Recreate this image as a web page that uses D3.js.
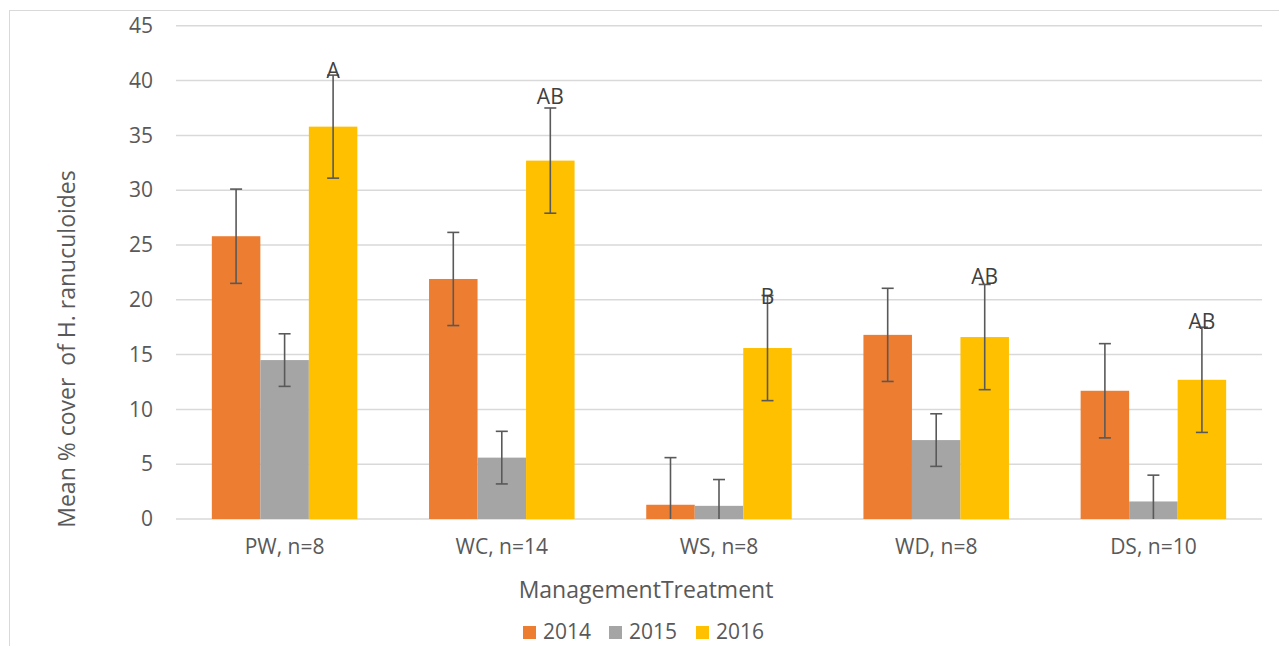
<!DOCTYPE html>
<html><head><meta charset="utf-8">
<script src="https://cdn.jsdelivr.net/npm/d3@7"></script>
<style>
body{margin:0;background:#fff;}
svg text{font-family:"Open Sans",sans-serif;fill:#595959;}
</style></head>
<body>
<svg id="chart" width="1279" height="646"></svg>
<script>
const categories = ["PW, n=8","WC, n=14","WS, n=8","WD, n=8","DS, n=10"];
const seriesNames = ["2014","2015","2016"];
const values2014 = [25.8, 21.9, 1.3, 16.8, 11.7];
const values2015 = [14.5, 5.6, 1.2, 7.2, 1.6];
const values2016 = [35.8, 32.7, 15.6, 16.6, 12.7];
const err2014 = [4.3, 4.25, 4.3, 4.25, 4.3];
const err2015 = [2.4, 2.4, 2.4, 2.4, 2.4];
const err2016 = [4.7, 4.8, 4.8, 4.8, 4.8];
const letters = ["A","AB","B","AB","AB"];
const letterValues = [40.9, 38.5, 20.3, 22.1, 18.0];
const yTicks = [0,5,10,15,20,25,30,35,40,45];
const colors = ["#ED7D31","#A5A5A5","#FFC000"];

const values = [values2014, values2015, values2016];
const errs = [err2014, err2015, err2016];

(function(){
const svg = d3.select("#chart");
const pL = 176, pR = 1262, pT = 25.8, pB = 519;

// frame
svg.append("rect").attr("x",9.5).attr("y",10.5).attr("width",1290).attr("height",660)
  .attr("fill","none").attr("stroke","#D9D9D9").attr("stroke-width",1);

const x0 = d3.scaleBand().domain(categories).range([pL,pR]).paddingInner(0.33).paddingOuter(0.165);
const x1 = d3.scaleBand().domain(seriesNames).range([0,x0.bandwidth()]).padding(0);
const y = d3.scaleLinear().domain([0,45]).range([pB,pT]);

// gridlines
svg.append("g").selectAll("line").data(yTicks).join("line")
  .attr("x1",pL).attr("x2",pR)
  .attr("y1",d=>y(d)).attr("y2",d=>y(d))
  .attr("stroke","#D9D9D9").attr("stroke-width",1.5);

// y tick labels via axis
const yAxis = svg.append("g").attr("transform",`translate(${pL},0)`)
  .call(d3.axisLeft(y).tickValues(yTicks).tickSize(0).tickPadding(23));
yAxis.select(".domain").remove();
yAxis.selectAll("text").style("font-size","21px").style("fill","#595959")
  .style("font-family","'Open Sans',sans-serif");

// bars
const groups = svg.append("g").selectAll("g").data(categories).join("g")
  .attr("transform",d=>`translate(${x0(d)},0)`);
seriesNames.forEach((s,si)=>{
  groups.append("rect")
    .attr("x",x1(s)).attr("width",x1.bandwidth())
    .attr("y",(d,i)=>y(values[si][i]))
    .attr("height",(d,i)=>y(0)-y(values[si][i]))
    .attr("fill",colors[si]);
});

// error bars
const capW = 6;
seriesNames.forEach((s,si)=>{
  groups.each(function(d,i){
    const g = d3.select(this);
    const cx = x1(s)+x1.bandwidth()/2;
    const v = values[si][i], e = errs[si][i];
    const hi = Math.min(45, v+e), lo = Math.max(0, v-e);
    g.append("line").attr("x1",cx).attr("x2",cx).attr("y1",y(hi)).attr("y2",y(lo))
      .attr("stroke","#595959").attr("stroke-width",1.6);
    g.append("line").attr("x1",cx-capW).attr("x2",cx+capW).attr("y1",y(v+e)).attr("y2",y(v+e))
      .attr("stroke","#595959").attr("stroke-width",1.6);
    if (v-e >= 0) {
      g.append("line").attr("x1",cx-capW).attr("x2",cx+capW).attr("y1",y(v-e)).attr("y2",y(v-e))
        .attr("stroke","#595959").attr("stroke-width",1.6);
    }
  });
});

// letters
groups.append("text")
  .attr("x",x1("2016")+x1.bandwidth()/2)
  .attr("y",(d,i)=>y(letterValues[i]))
  .attr("dy","0.35em")
  .attr("text-anchor","middle")
  .style("font-size","21px")
  .style("fill","#404040")
  .text((d,i)=>letters[i]);

// x axis labels
const xAxis = svg.append("g").attr("transform",`translate(0,${pB})`)
  .call(d3.axisBottom(x0).tickSize(0).tickPadding(20));
xAxis.select(".domain").remove();
xAxis.selectAll("text").style("font-size","21px").style("fill","#595959")
  .style("font-family","'Open Sans',sans-serif");

// axis titles
svg.append("text").attr("x",646).attr("y",598).attr("text-anchor","middle")
  .style("font-size","23px").text("ManagementTreatment");
svg.append("text").attr("transform","translate(75,349) rotate(-90)")
  .attr("text-anchor","middle").style("font-size","23px").style("white-space","pre")
  .text("Mean % cover  of H. ranuculoides");

// legend
const legendX = [523, 609, 696];
const lg = svg.append("g").selectAll("g").data(seriesNames).join("g")
  .attr("transform",(d,i)=>`translate(${legendX[i]},626)`);
lg.append("rect").attr("width",13).attr("height",13).attr("fill",(d,i)=>colors[i]);
lg.append("text").attr("x",20).attr("y",13).style("font-size","21px").text(d=>d);
})();
</script>
</body></html>
